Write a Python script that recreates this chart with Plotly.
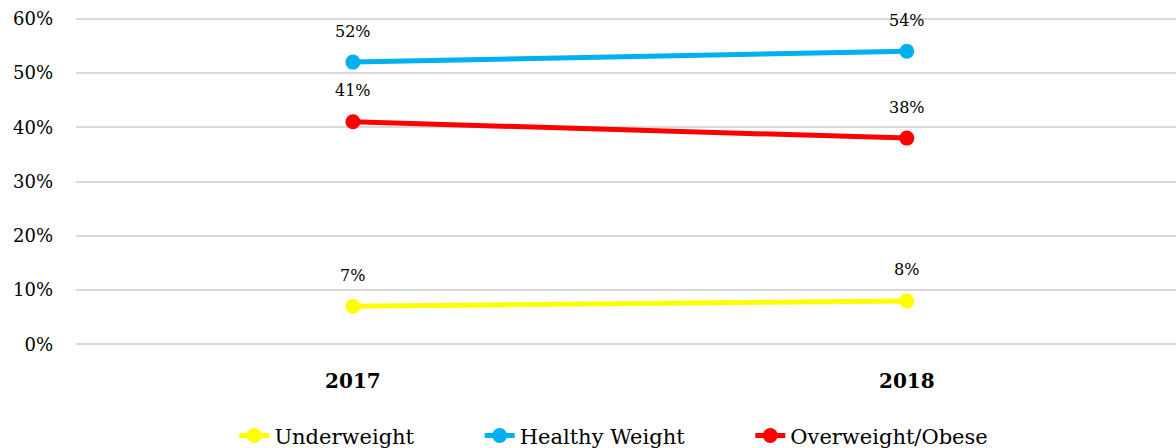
import plotly.graph_objects as go

years = ["2017", "2018"]
underweight = [0.07, 0.08]
healthy = [0.52, 0.54]
overweight = [0.41, 0.38]

series = [
    ("Underweight", underweight, "#FFFF00"),
    ("Healthy Weight", healthy, "#00B0F0"),
    ("Overweight/Obese", overweight, "#FF0000"),
]

FONT = "DejaVu Serif"

# one legend box per series so each entry sits at its own x position
legend_x = [0.144, 0.367, 0.613]
legend_ids = ["legend", "legend2", "legend3"]

fig = go.Figure()
for (name, vals, color), lid in zip(series, legend_ids):
    fig.add_trace(go.Scatter(
        x=years, y=vals, name=name, mode="lines+markers",
        line=dict(color=color, width=5),
        marker=dict(color=color, size=15),
        legend=lid,
    ))
    for i, yv in enumerate(vals):
        fig.add_annotation(
            x=i, y=yv, xref="x", yref="y", text=f"{round(yv * 100)}%",
            showarrow=False, yshift=31,
            font=dict(family=FONT, size=16, color="#000000"),
        )

legend_style = dict(
    orientation="h", xanchor="left", yref="container", y=0.027,
    yanchor="middle", font=dict(family=FONT, size=21),
    bgcolor="rgba(0,0,0,0)",
)

fig.update_layout(
    width=1176, height=448,
    margin=dict(l=76, r=0, t=16, b=101, autoexpand=False),
    paper_bgcolor="white", plot_bgcolor="white",
    font=dict(family=FONT, color="#000000"),
    showlegend=True,
    legend=dict(x=legend_x[0], **legend_style),
    legend2=dict(x=legend_x[1], **legend_style),
    legend3=dict(x=legend_x[2], **legend_style),
    xaxis=dict(
        type="category", range=[-0.5, 1.486], showgrid=False, zeroline=False,
        showline=False, ticks="", ticklabelstandoff=20,
        tickfont=dict(family=FONT, size=20, weight="bold"),
    ),
    yaxis=dict(
        range=[-0.005, 0.605], tickvals=[0, 0.1, 0.2, 0.3, 0.4, 0.5, 0.6],
        tickformat=".0%", showgrid=True,
        gridcolor="#D9D9D9", gridwidth=1.5, zeroline=False, showline=False,
        ticks="", ticklabelstandoff=22, tickfont=dict(family=FONT, size=18),
    ),
)

fig.write_html("out.html")
